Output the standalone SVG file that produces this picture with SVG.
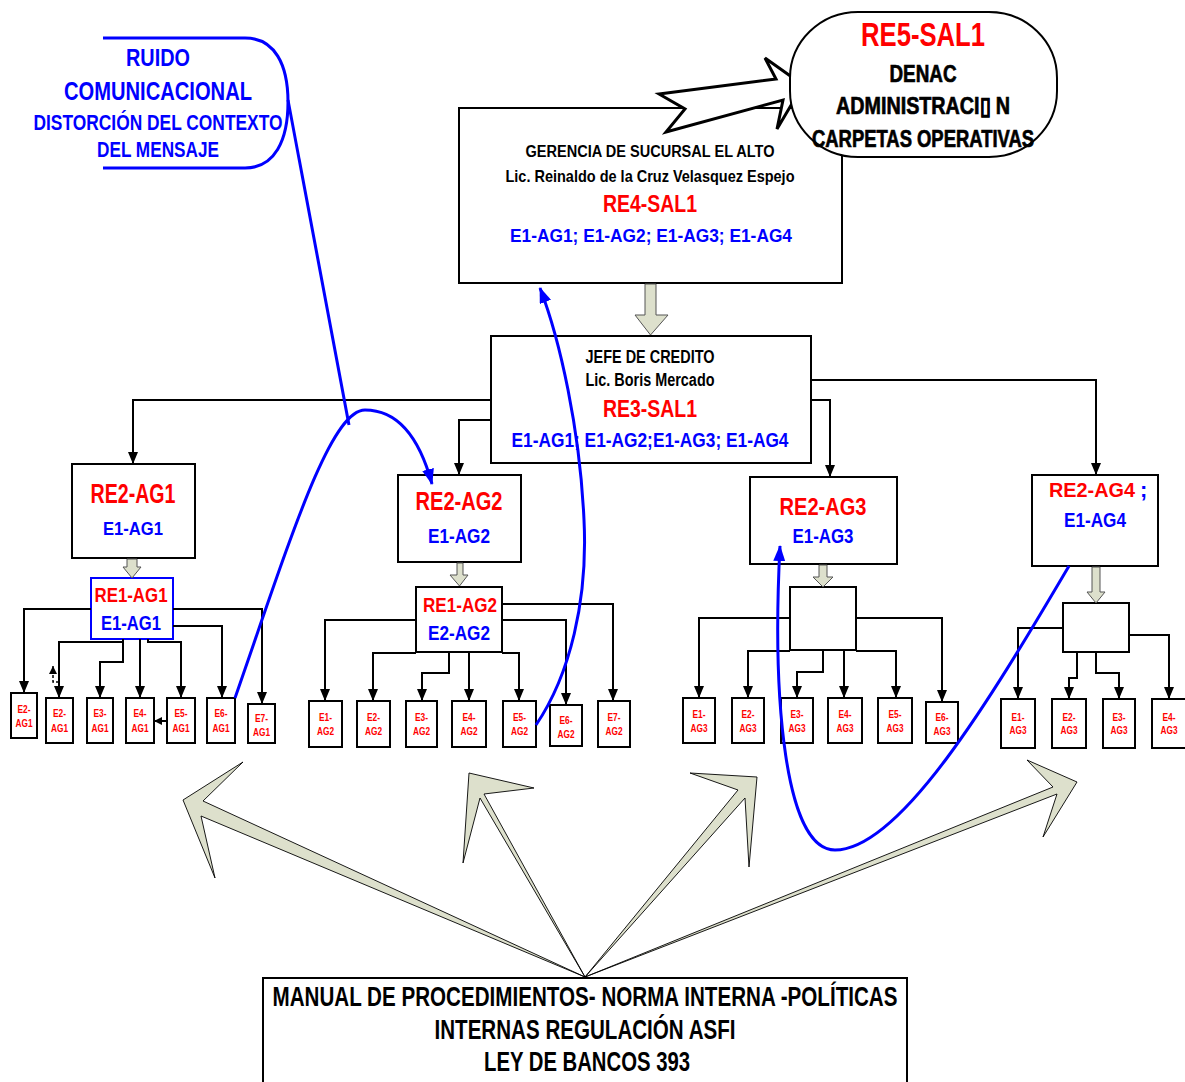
<svg xmlns="http://www.w3.org/2000/svg" width="1185" height="1082" viewBox="0 0 1185 1082">
  <style>
    .t { font-family: "Liberation Sans Narrow", "Liberation Sans", Arial, sans-serif; font-weight: bold; text-anchor: middle; }
    .red { fill: #ff0000; }
    .blue { fill: #0000ff; }
    .blk { fill: #000000; }
    .heavy { stroke: #000000; stroke-width: 0.7; }
    .box { fill: #ffffff; stroke: #000000; stroke-width: 2; }
    .bbox { fill: #ffffff; stroke: #0000ff; stroke-width: 2; }
    .sm { fill: #ffffff; stroke: #000000; stroke-width: 2; }
    .lbl { font-family: "Liberation Sans Narrow", "Liberation Sans", Arial, sans-serif; font-weight: bold; text-anchor: middle; font-size: 11px; fill: #ff0000; }
    .wire { fill: none; stroke: #000000; stroke-width: 2; marker-end: url(#ah); }
    .bl { fill: none; stroke: #0000ff; stroke-width: 3; }
    .bla { fill: none; stroke: #0000ff; stroke-width: 3; marker-end: url(#bah); }
    .blk-arrow { fill: #dde0cc; stroke: #555555; stroke-width: 1; }
    .fan { fill: #dde0cc; stroke: #000000; stroke-width: 0.9; stroke-linejoin: miter; }
  </style>
  <defs>
    <marker id="ah" viewBox="0 0 12 10" refX="12" refY="5" markerWidth="12" markerHeight="10" markerUnits="userSpaceOnUse" orient="auto">
      <path d="M0,0 L12,5 L0,10 Z" fill="#000000"/>
    </marker>
    <marker id="ahs" viewBox="0 0 8 8" refX="8" refY="4" markerWidth="8" markerHeight="8" markerUnits="userSpaceOnUse" orient="auto">
      <path d="M0,0 L8,4 L0,8 Z" fill="#000000"/>
    </marker>
    <marker id="bah" viewBox="0 0 16 12" refX="15" refY="6" markerWidth="16" markerHeight="12" markerUnits="userSpaceOnUse" orient="auto">
      <path d="M0,0 L16,6 L0,12 Z" fill="#0000ff"/>
    </marker>
  </defs>

  <!-- noise cloud -->
  <g id="ruido">
    <path d="M103,38 L245,38 C275,38 288,65 288,102 C288,140 275,168 245,168 L103,168" fill="none" stroke="#0000ff" stroke-width="3"/>
    <text class="t blue" x="158" y="66" font-size="23" textLength="64" lengthAdjust="spacingAndGlyphs">RUIDO</text>
    <text class="t blue" x="158" y="100" font-size="26" textLength="188" lengthAdjust="spacingAndGlyphs">COMUNICACIONAL</text>
    <text class="t blue" x="158" y="130" font-size="22" textLength="249" lengthAdjust="spacingAndGlyphs">DISTORCIÓN DEL CONTEXTO</text>
    <text class="t blue" x="158" y="157" font-size="22" textLength="122" lengthAdjust="spacingAndGlyphs">DEL MENSAJE</text>
  </g>

  <!-- gerencia -->
  <g id="gerencia">
    <rect class="box" x="459" y="108" width="383" height="175"/>
    <text class="t blk" x="650" y="157" font-size="16" textLength="249" lengthAdjust="spacingAndGlyphs">GERENCIA DE SUCURSAL EL ALTO</text>
    <text class="t blk" x="650" y="182" font-size="17" textLength="289" lengthAdjust="spacingAndGlyphs">Lic. Reinaldo de la Cruz Velasquez Espejo</text>
    <text class="t red" x="650" y="212" font-size="23" textLength="94" lengthAdjust="spacingAndGlyphs">RE4-SAL1</text>
    <text class="t blue" x="651" y="242" font-size="18" textLength="282" lengthAdjust="spacingAndGlyphs">E1-AG1; E1-AG2; E1-AG3; E1-AG4</text>
  </g>

  <!-- zigzag arrow to DENAC -->
  <g id="zigzag">
    <polygon points="659,94 776,79 765,58 803,85 777,129 783,100 666,132 685,109" fill="#ffffff" stroke="#000000" stroke-width="3" stroke-linejoin="miter"/>
  </g>

  <!-- DENAC -->
  <g id="denac">
    <rect x="790" y="12" width="267" height="145" rx="68" ry="66" fill="#ffffff" stroke="#000000" stroke-width="2"/>
    <text class="t red" x="923" y="46" font-size="33" textLength="124" lengthAdjust="spacingAndGlyphs">RE5-SAL1</text>
    <text class="t blk heavy" x="923" y="82" font-size="24" textLength="67" lengthAdjust="spacingAndGlyphs">DENAC</text>
    <text class="t blk heavy" x="923" y="114" font-size="24" textLength="174" lengthAdjust="spacingAndGlyphs">ADMINISTRACI&#x25AF; N</text>
    <text class="t blk heavy" x="923" y="147" font-size="24" textLength="222" lengthAdjust="spacingAndGlyphs">CARPETAS OPERATIVAS</text>
  </g>

  <!-- jefe de credito -->
  <g id="jefe">
    <rect class="box" x="491" y="336" width="320" height="127"/>
    <text class="t blk" x="650" y="363" font-size="18" textLength="129" lengthAdjust="spacingAndGlyphs">JEFE DE CREDITO</text>
    <text class="t blk" x="650" y="386" font-size="18" textLength="129" lengthAdjust="spacingAndGlyphs">Lic. Boris Mercado</text>
    <text class="t red" x="650" y="417" font-size="24" textLength="94" lengthAdjust="spacingAndGlyphs">RE3-SAL1</text>
    <text class="t blue" x="650" y="447" font-size="21" textLength="277" lengthAdjust="spacingAndGlyphs">E1-AG1; E1-AG2;E1-AG3; E1-AG4</text>
  </g>

  <!-- agency 1 -->
  <g id="re2-ag1">
    <rect class="box" x="72" y="464" width="123" height="94"/>
    <text class="t red" x="133" y="503" font-size="27" textLength="85" lengthAdjust="spacingAndGlyphs">RE2-AG1</text>
    <text class="t blue" x="133" y="535" font-size="19" textLength="60" lengthAdjust="spacingAndGlyphs">E1-AG1</text>
  </g>
  <g id="re1-ag1">
    <rect class="bbox" x="91" y="578" width="82" height="61"/>
    <text class="t red" x="131" y="602" font-size="21" textLength="73" lengthAdjust="spacingAndGlyphs">RE1-AG1</text>
    <text class="t blue" x="131" y="630" font-size="21" textLength="60" lengthAdjust="spacingAndGlyphs">E1-AG1</text>
  </g>
  <g id="ag1-e2a"><rect class="sm" x="11" y="693" width="26" height="45"/><text class="lbl" x="24" y="713" textLength="13" lengthAdjust="spacingAndGlyphs">E2-</text><text class="lbl" x="24" y="727" textLength="17" lengthAdjust="spacingAndGlyphs">AG1</text></g>
  <g id="ag1-e2b"><rect class="sm" x="46" y="698" width="27" height="45"/><text class="lbl" x="59.5" y="717" textLength="13" lengthAdjust="spacingAndGlyphs">E2-</text><text class="lbl" x="59.5" y="732" textLength="17" lengthAdjust="spacingAndGlyphs">AG1</text></g>
  <g id="ag1-e3"><rect class="sm" x="87" y="698" width="26" height="45"/><text class="lbl" x="100" y="717" textLength="13" lengthAdjust="spacingAndGlyphs">E3-</text><text class="lbl" x="100" y="732" textLength="17" lengthAdjust="spacingAndGlyphs">AG1</text></g>
  <g id="ag1-e4"><rect class="sm" x="126" y="698" width="28" height="45"/><text class="lbl" x="140" y="717" textLength="13" lengthAdjust="spacingAndGlyphs">E4-</text><text class="lbl" x="140" y="732" textLength="17" lengthAdjust="spacingAndGlyphs">AG1</text></g>
  <g id="ag1-e5"><rect class="sm" x="167" y="698" width="28" height="45"/><text class="lbl" x="181" y="717" textLength="13" lengthAdjust="spacingAndGlyphs">E5-</text><text class="lbl" x="181" y="732" textLength="17" lengthAdjust="spacingAndGlyphs">AG1</text></g>
  <g id="ag1-e6"><rect class="sm" x="207" y="698" width="28" height="45"/><text class="lbl" x="221" y="717" textLength="13" lengthAdjust="spacingAndGlyphs">E6-</text><text class="lbl" x="221" y="732" textLength="17" lengthAdjust="spacingAndGlyphs">AG1</text></g>
  <g id="ag1-e7"><rect class="sm" x="248" y="704" width="27" height="39"/><text class="lbl" x="261.5" y="722" textLength="13" lengthAdjust="spacingAndGlyphs">E7-</text><text class="lbl" x="261.5" y="736" textLength="17" lengthAdjust="spacingAndGlyphs">AG1</text></g>

  <!-- agency 2 -->
  <g id="re2-ag2">
    <rect class="box" x="398" y="475" width="123" height="87"/>
    <text class="t red" x="459" y="510" font-size="25" textLength="87" lengthAdjust="spacingAndGlyphs">RE2-AG2</text>
    <text class="t blue" x="459" y="543" font-size="21" textLength="62" lengthAdjust="spacingAndGlyphs">E1-AG2</text>
  </g>
  <g id="re1-ag2">
    <rect class="box" x="416" y="587" width="86" height="65"/>
    <text class="t red" x="460" y="612" font-size="20" textLength="74" lengthAdjust="spacingAndGlyphs">RE1-AG2</text>
    <text class="t blue" x="459" y="640" font-size="20" textLength="62" lengthAdjust="spacingAndGlyphs">E2-AG2</text>
  </g>
  <g id="ag2-e1"><rect class="sm" x="309" y="701" width="33" height="46"/><text class="lbl" x="325.5" y="721" textLength="13" lengthAdjust="spacingAndGlyphs">E1-</text><text class="lbl" x="325.5" y="735" textLength="17" lengthAdjust="spacingAndGlyphs">AG2</text></g>
  <g id="ag2-e2"><rect class="sm" x="357" y="701" width="33" height="46"/><text class="lbl" x="373.5" y="721" textLength="13" lengthAdjust="spacingAndGlyphs">E2-</text><text class="lbl" x="373.5" y="735" textLength="17" lengthAdjust="spacingAndGlyphs">AG2</text></g>
  <g id="ag2-e3"><rect class="sm" x="406" y="701" width="31" height="46"/><text class="lbl" x="421.5" y="721" textLength="13" lengthAdjust="spacingAndGlyphs">E3-</text><text class="lbl" x="421.5" y="735" textLength="17" lengthAdjust="spacingAndGlyphs">AG2</text></g>
  <g id="ag2-e4"><rect class="sm" x="452" y="701" width="34" height="46"/><text class="lbl" x="469" y="721" textLength="13" lengthAdjust="spacingAndGlyphs">E4-</text><text class="lbl" x="469" y="735" textLength="17" lengthAdjust="spacingAndGlyphs">AG2</text></g>
  <g id="ag2-e5"><rect class="sm" x="503" y="701" width="33" height="46"/><text class="lbl" x="519.5" y="721" textLength="13" lengthAdjust="spacingAndGlyphs">E5-</text><text class="lbl" x="519.5" y="735" textLength="17" lengthAdjust="spacingAndGlyphs">AG2</text></g>
  <g id="ag2-e6"><rect class="sm" x="550" y="705" width="32" height="41"/><text class="lbl" x="566" y="724" textLength="13" lengthAdjust="spacingAndGlyphs">E6-</text><text class="lbl" x="566" y="738" textLength="17" lengthAdjust="spacingAndGlyphs">AG2</text></g>
  <g id="ag2-e7"><rect class="sm" x="598" y="701" width="32" height="46"/><text class="lbl" x="614" y="721" textLength="13" lengthAdjust="spacingAndGlyphs">E7-</text><text class="lbl" x="614" y="735" textLength="17" lengthAdjust="spacingAndGlyphs">AG2</text></g>

  <!-- agency 3 -->
  <g id="re2-ag3">
    <rect class="box" x="750" y="477" width="147" height="87"/>
    <text class="t red" x="823" y="515" font-size="24" textLength="87" lengthAdjust="spacingAndGlyphs">RE2-AG3</text>
    <text class="t blue" x="823" y="543" font-size="21" textLength="61" lengthAdjust="spacingAndGlyphs">E1-AG3</text>
  </g>
  <g id="ag3-hub"><rect class="box" x="790" y="587" width="66" height="63"/></g>
  <g id="ag3-e1"><rect class="sm" x="683" y="698" width="32" height="45"/><text class="lbl" x="699" y="718" textLength="13" lengthAdjust="spacingAndGlyphs">E1-</text><text class="lbl" x="699" y="732" textLength="17" lengthAdjust="spacingAndGlyphs">AG3</text></g>
  <g id="ag3-e2"><rect class="sm" x="732" y="698" width="32" height="45"/><text class="lbl" x="748" y="718" textLength="13" lengthAdjust="spacingAndGlyphs">E2-</text><text class="lbl" x="748" y="732" textLength="17" lengthAdjust="spacingAndGlyphs">AG3</text></g>
  <g id="ag3-e3"><rect class="sm" x="781" y="698" width="32" height="45"/><text class="lbl" x="797" y="718" textLength="13" lengthAdjust="spacingAndGlyphs">E3-</text><text class="lbl" x="797" y="732" textLength="17" lengthAdjust="spacingAndGlyphs">AG3</text></g>
  <g id="ag3-e4"><rect class="sm" x="828" y="698" width="34" height="45"/><text class="lbl" x="845" y="718" textLength="13" lengthAdjust="spacingAndGlyphs">E4-</text><text class="lbl" x="845" y="732" textLength="17" lengthAdjust="spacingAndGlyphs">AG3</text></g>
  <g id="ag3-e5"><rect class="sm" x="878" y="698" width="34" height="45"/><text class="lbl" x="895" y="718" textLength="13" lengthAdjust="spacingAndGlyphs">E5-</text><text class="lbl" x="895" y="732" textLength="17" lengthAdjust="spacingAndGlyphs">AG3</text></g>
  <g id="ag3-e6"><rect class="sm" x="926" y="702" width="32" height="41"/><text class="lbl" x="942" y="721" textLength="13" lengthAdjust="spacingAndGlyphs">E6-</text><text class="lbl" x="942" y="735" textLength="17" lengthAdjust="spacingAndGlyphs">AG3</text></g>

  <!-- agency 4 -->
  <g id="re2-ag4">
    <rect class="box" x="1032" y="475" width="126" height="91"/>
    <text class="t red" x="1092" y="497" font-size="21" textLength="86" lengthAdjust="spacingAndGlyphs">RE2-AG4</text>
    <text class="t blue" x="1140" y="497" font-size="22" style="text-anchor:start">;</text>
    <text class="t blue" x="1095" y="527" font-size="20" textLength="62" lengthAdjust="spacingAndGlyphs">E1-AG4</text>
  </g>
  <g id="ag4-hub"><rect class="box" x="1063" y="603" width="66" height="49"/></g>
  <g id="ag4-e1"><rect class="sm" x="1001" y="699" width="34" height="49"/><text class="lbl" x="1018" y="721" textLength="13" lengthAdjust="spacingAndGlyphs">E1-</text><text class="lbl" x="1018" y="734" textLength="17" lengthAdjust="spacingAndGlyphs">AG3</text></g>
  <g id="ag4-e2"><rect class="sm" x="1052" y="699" width="34" height="49"/><text class="lbl" x="1069" y="721" textLength="13" lengthAdjust="spacingAndGlyphs">E2-</text><text class="lbl" x="1069" y="734" textLength="17" lengthAdjust="spacingAndGlyphs">AG3</text></g>
  <g id="ag4-e3"><rect class="sm" x="1103" y="699" width="32" height="49"/><text class="lbl" x="1119" y="721" textLength="13" lengthAdjust="spacingAndGlyphs">E3-</text><text class="lbl" x="1119" y="734" textLength="17" lengthAdjust="spacingAndGlyphs">AG3</text></g>
  <g id="ag4-e4"><rect class="sm" x="1152" y="699" width="34" height="49"/><text class="lbl" x="1169" y="721" textLength="13" lengthAdjust="spacingAndGlyphs">E4-</text><text class="lbl" x="1169" y="734" textLength="17" lengthAdjust="spacingAndGlyphs">AG3</text></g>

  <!-- regulations -->
  <g id="manual">
    <rect class="box" x="263" y="978" width="644" height="120"/>
    <text class="t blk" x="585" y="1006" font-size="27" textLength="625" lengthAdjust="spacingAndGlyphs">MANUAL DE PROCEDIMIENTOS- NORMA INTERNA -POLÍTICAS</text>
    <text class="t blk" x="585" y="1039" font-size="27" textLength="301" lengthAdjust="spacingAndGlyphs">INTERNAS REGULACIÓN ASFI</text>
    <text class="t blk" x="587" y="1071" font-size="27" textLength="206" lengthAdjust="spacingAndGlyphs">LEY DE BANCOS 393</text>
  </g>

  <!-- connectors -->
  <g id="connectors">
    <!-- Jefe de credito to agencies -->
    <path class="wire" d="M491,400 L133,400 L133,464"/>
    <path class="wire" d="M491,420 L459,420 L459,475"/>
    <path class="wire" d="M811,380 L1096,380 L1096,475"/>
    <path class="wire" d="M811,400 L830,400 L830,477"/>

    <!-- AG1 -->
    <path class="wire" d="M91,609 L24,609 L24,693"/>
    <path class="wire" d="M173,609 L262,609 L262,704"/>
    <path class="wire" d="M173,626 L222,626 L222,698"/>
    <path class="wire" d="M123,642 L59,642 L59,698"/>
    <path class="wire" d="M123,639 L123,662 L100,662 L100,698"/>
    <path class="wire" d="M140,639 L140,698"/>
    <path class="wire" d="M148,639 L148,642 L181,642 L181,698"/>
    <path fill="none" stroke="#000" stroke-width="1.5" stroke-dasharray="3,2" marker-end="url(#ahs)" d="M59,682 L53,682 L53,666"/>
    <path fill="none" stroke="#000" stroke-width="2" marker-end="url(#ahs)" d="M167,721 L154,721"/>

    <!-- AG2 -->
    <path class="wire" d="M416,620 L325,620 L325,701"/>
    <path class="wire" d="M502,604 L613,604 L613,701"/>
    <path class="wire" d="M502,620 L566,620 L566,705"/>
    <path class="wire" d="M416,653 L373,653 L373,701"/>
    <path class="wire" d="M502,653 L519,653 L519,701"/>
    <path class="wire" d="M449,652 L449,673 L422,673 L422,701"/>
    <path class="wire" d="M469,652 L469,701"/>

    <!-- AG3 -->
    <path class="wire" d="M790,618 L699,618 L699,698"/>
    <path class="wire" d="M856,618 L942,618 L942,702"/>
    <path class="wire" d="M790,651 L748,651 L748,698"/>
    <path class="wire" d="M856,651 L896,651 L896,698"/>
    <path class="wire" d="M823,650 L823,672 L797,672 L797,698"/>
    <path class="wire" d="M844,650 L844,698"/>

    <!-- AG4 -->
    <path class="wire" d="M1063,628 L1018,628 L1018,699"/>
    <path class="wire" d="M1129,635 L1169,635 L1169,699"/>
    <path class="wire" d="M1077,652 L1077,678 L1069,678 L1069,699"/>
    <path class="wire" d="M1096,652 L1096,673 L1119,673 L1119,699"/>

    <!-- hollow block arrows between levels -->
    <polygon class="blk-arrow" points="645,284 656,284 656,315 668,315 650.5,335 635,315 645,315"/>
    <polygon class="blk-arrow" points="127,559 137,559 137,567 141,567 132,578 123,567 127,567"/>
    <polygon class="blk-arrow" points="457,563 463,563 463,575 468,575 459.5,586 450,575 457,575"/>
    <polygon class="blk-arrow" points="819,565 827,565 827,577 833,577 823,587 813,577 819,577"/>
    <polygon class="blk-arrow" points="1092,567 1100,567 1100,592 1105,592 1096,603 1087,592 1092,592"/>

    <!-- fan of regulation arrows -->
    <polygon class="fan" points="585,977 203,801 243,762 183,800 215,878 201,816"/>
    <polygon class="fan" points="585,977 484,794 534,788 469,773 463,863 480,798"/>
    <polygon class="fan" points="585,977 738,790 690,773 757,777 749,867 745,798"/>
    <polygon class="fan" points="585,977 1053,787 1027,760 1077,782 1043,837 1057,794"/>

    <!-- blue communication paths -->
    <path class="bl" d="M288,100 L349,425"/>
    <path class="bla" d="M235,698 C290,540 330,410 365,410 C400,410 420,440 432,484"/>
    <path class="bla" d="M536,725 C570,675 588,600 584,520 C580,430 560,340 540,288"/>
    <path class="bla" d="M1069,566 C990,700 900,850 835,850 C785,850 772,700 780,546"/>
  </g>
</svg>
